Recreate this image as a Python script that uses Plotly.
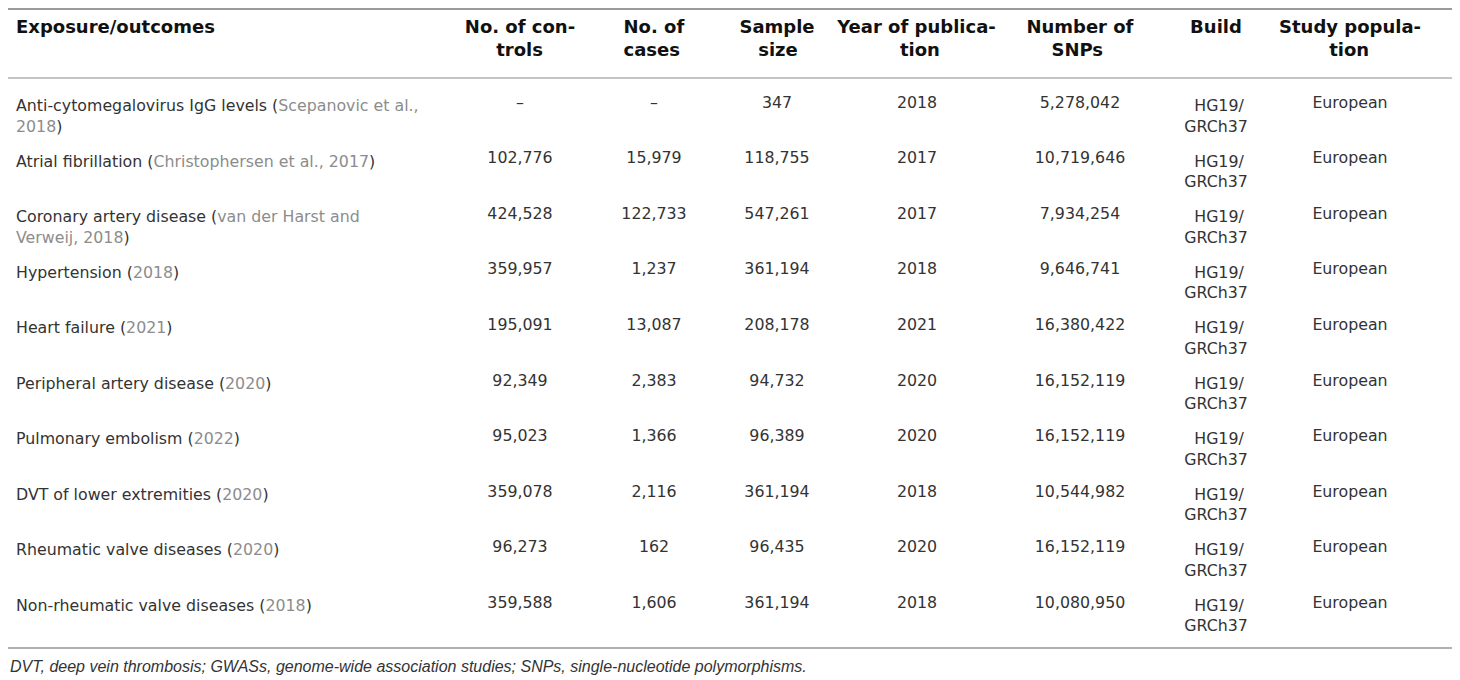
import plotly.graph_objects as go

# encabezados de la tabla
encabezados = ["Exposure/outcomes", "No. of con-<br>trols", "No. of<br>cases", "Sample<br>size",
               "Year of publica-<br>tion", "Number of<br>SNPs", "Build", "Study popula-<br>tion"]

exposiciones = ["Anti-cytomegalovirus IgG levels", "Atrial fibrillation", "Coronary artery disease",
                "Hypertension", "Heart failure", "Peripheral artery disease", "Pulmonary embolism",
                "DVT of lower extremities", "Rheumatic valve diseases", "Non-rheumatic valve diseases"]
referencias = ["Scepanovic et al.,|2018", "Christophersen et al., 2017", "van der Harst and|Verweij, 2018",
               "2018", "2021", "2020", "2022", "2020", "2020", "2018"]
controles = ["–", "102,776", "424,528", "359,957", "195,091", "92,349", "95,023", "359,078", "96,273", "359,588"]
casos = ["–", "15,979", "122,733", "1,237", "13,087", "2,383", "1,366", "2,116", "162", "1,606"]
tamano_muestra = ["347", "118,755", "547,261", "361,194", "208,178", "94,732", "96,389", "361,194", "96,435", "361,194"]
anio_publicacion = ["2018", "2017", "2017", "2018", "2021", "2020", "2020", "2018", "2020", "2018"]
numero_snps = ["5,278,042", "10,719,646", "7,934,254", "9,646,741", "16,380,422", "16,152,119",
               "16,152,119", "10,544,982", "16,152,119", "10,080,950"]
build = ["HG19/GRCh37"] * 10
poblacion = ["European"] * 10

nota = "DVT, deep vein thrombosis; GWASs, genome-wide association studies; SNPs, single-nucleotide polymorphisms."

GRIS = "#8c8c8c"
ALTO = 672  # la pagina deja 8px de margen arriba
FUENTE = "DejaVu Sans"


def ancho(s):
    # ancho aproximado del texto en em
    total = 0
    for ch in s:
        if ch == " ":
            total += 0.318
        elif ch in "fijlrt.,/-()":
            total += 0.36
        elif ch in "mwMW":
            total += 0.98
        elif ch.isupper():
            total += 0.75
        else:
            total += 0.63
    return total


def centrar(texto, negrita=False):
    # plotly alinea las lineas a la izquierda dentro de la celda centrada,
    # se rellenan las lineas cortas con espacios para centrarlas
    lineas = texto.split("<br>")
    maximo = max(ancho(l) for l in lineas)
    salida = []
    for l in lineas:
        l = "\u00a0" * int(round((maximo - ancho(l)) / 2 / 0.318)) + l
        salida.append("<b>%s</b>" % l if negrita else l)
    return "<br>".join(salida)


def con_cita(nombre, cita):
    # la cita va en gris, el salto de linea se marca con |
    partes = ["<span style='color:%s'>%s</span>" % (GRIS, p) for p in cita.split("|")]
    texto = nombre + " (" + "<br>".join(partes) + ")"
    if len(partes) == 1:
        texto += "<br>"  # evita que plotly parta la etiqueta span al ajustar
    return texto


col_exposicion = [con_cita(n, c) for n, c in zip(exposiciones, referencias)]
col_build = [centrar(b.replace("/", "/<br>")) for b in build]

valores = [col_exposicion, controles, casos, tamano_muestra, anio_publicacion, numero_snps, col_build, poblacion]

fig = go.Figure(data=go.Table(
    columnwidth=[445, 134, 134, 112, 168, 158, 114, 154],
    domain=dict(x=[0, 1419 / 1452], y=[0, 1]),
    header=dict(values=["<b>%s</b>" % encabezados[0]] + [centrar(h, True) for h in encabezados[1:]],
                align=["left"] + ["center"] * 7,
                font=dict(family=FUENTE, size=18, color="#111111"),
                fill_color="white", line_color="white", height=80),
    cells=dict(values=valores,
               align=["left"] + ["center"] * 7,
               font=dict(family=FUENTE, size=15.8, color="#333333"),
               fill_color="white", line_color="white", height=55)
))

# lineas horizontales de la tabla
for y, color in [(1, "#9a9a9a"), (70, "#c4c4c4"), (640, "#b0b0b0")]:
    fig.add_shape(type="line", xref="paper", yref="paper", x0=0, x1=1,
                  y0=1 - y / ALTO, y1=1 - y / ALTO, line=dict(color=color, width=2))

fig.add_annotation(text="<i>%s</i>" % nota, xref="paper", yref="paper", x=0, y=1 - 658 / ALTO,
                   xanchor="left", yanchor="middle", showarrow=False,
                   font=dict(family="Liberation Sans", size=16, color="#333333"))

fig.update_layout(width=1452, height=ALTO, margin=dict(l=0, r=0, t=0, b=0),
                  paper_bgcolor="white", plot_bgcolor="white")
fig.write_html("out.html")
